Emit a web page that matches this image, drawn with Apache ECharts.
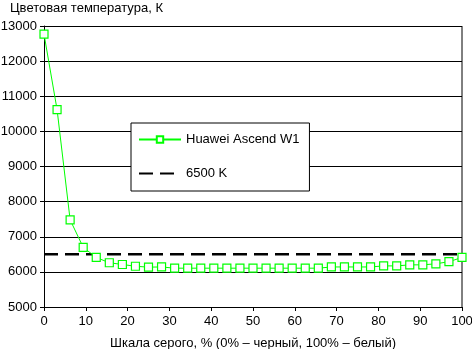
<!DOCTYPE html>
<html><head><meta charset="utf-8">
<script src="https://cdn.jsdelivr.net/npm/echarts@6/dist/echarts.min.js"></script>
<style>html,body{margin:0;padding:0;background:#fff}#c{width:472px;height:349px}</style>
</head><body><div id="c"></div>
<script>
const grayLevels = [0,3.125,6.25,9.375,12.5,15.625,18.75,21.875,25,28.125,31.25,34.375,37.5,40.625,43.75,46.875,50,53.125,56.25,59.375,62.5,65.625,68.75,71.875,75,78.125,81.25,84.375,87.5,90.625,93.75,96.875,100];
const huaweiTemp = [12770,10620,7480,6700,6410,6260,6210,6160,6135,6140,6105,6105,6105,6105,6105,6105,6105,6105,6105,6105,6105,6105,6140,6140,6140,6140,6170,6170,6200,6200,6230,6290,6410];
const refX = [0,100];
const refTemp = [6500,6500];
const seriesNames = ['Huawei Ascend W1','6500 K'];
const yTitle = 'Цветовая температура, К';
const xTitle = 'Шкала серого, % (0% – черный, 100% – белый)';
const font = 'Arial, "Liberation Sans", sans-serif';

const chart = echarts.init(document.getElementById('c'));
chart.setOption({
  animation:false,
  backgroundColor:'#fff',
  grid:{left:44,right:10,top:26,bottom:42,show:false,containLabel:false,outerBoundsMode:'none'},
  xAxis:{type:'value',min:0,max:100,interval:10,
    axisLine:{show:true,onZero:false,lineStyle:{color:'#000',width:1}},
    axisTick:{show:true,length:4,inside:false,lineStyle:{color:'#000'}},
    axisLabel:{color:'#000',fontSize:13,fontFamily:font,margin:8},
    splitLine:{show:false}},
  yAxis:{type:'value',min:5000,max:13000,interval:1000,
    axisLine:{show:true,lineStyle:{color:'#000',width:1}},
    axisTick:{show:true,length:4,lineStyle:{color:'#000'}},
    axisLabel:{color:'#000',fontSize:13,fontFamily:font,margin:7,formatter:v=>String(v)},
    splitLine:{show:true,lineStyle:{color:'#000',width:1}}},
  legend:{orient:'vertical',left:131,top:123,
    backgroundColor:'#fff',borderColor:'#000',borderWidth:1,
    padding:[10,10,11,7],itemGap:21,itemWidth:42,itemHeight:8,
    textStyle:{color:'#000',fontSize:13,fontFamily:font},
    data:[seriesNames[0],{name:seriesNames[1],itemStyle:{color:'rgba(0,0,0,0)',borderWidth:0}}]},
  graphic:[
    {type:'text',left:10,top:2,style:{text:yTitle,fill:'#000',font:'13px '+font}},
    {type:'text',x:253,y:343,style:{text:xTitle,fill:'#000',font:'13px '+font,align:'center',verticalAlign:'middle'}},
    {type:'line',shape:{x1:462,y1:26,x2:462,y2:307},style:{stroke:'#000',lineWidth:1}}
  ],
  series:[
    {name:seriesNames[1],type:'line',data:refX.map((x,i)=>[x,refTemp[i]]),
      symbol:'none',lineStyle:{color:'#000',width:2.5,type:[14,7]},itemStyle:{color:'#000'},z:2},
    {name:seriesNames[0],type:'line',data:grayLevels.map((x,i)=>[x,huaweiTemp[i]]),
      symbol:'rect',symbolSize:8,
      lineStyle:{color:'#00ff00',width:1},
      itemStyle:{color:'#fff',borderColor:'#00ff00',borderWidth:1.2},z:3}
  ]
});
</script></body></html>
